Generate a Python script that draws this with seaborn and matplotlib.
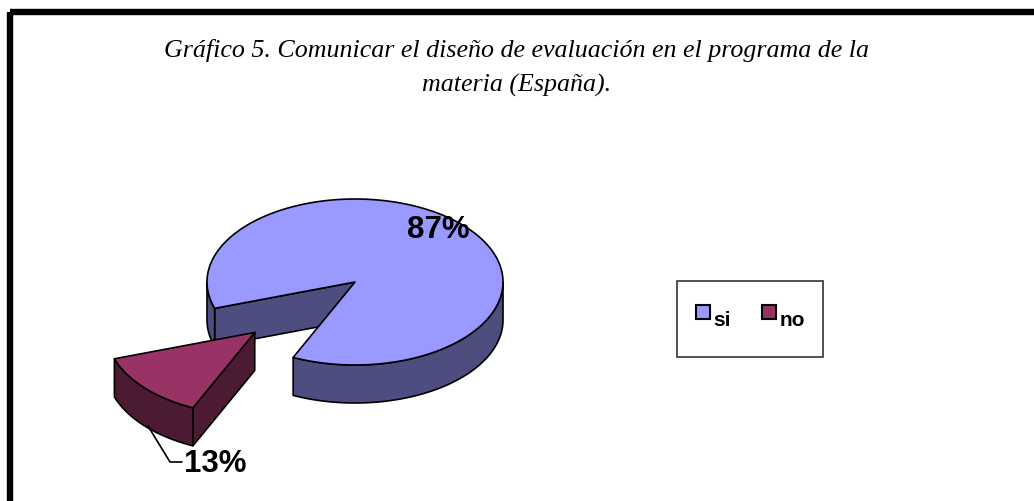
import numpy as np
import matplotlib
matplotlib.use('Agg')
import matplotlib.pyplot as plt
import seaborn as sns
from matplotlib.patches import Polygon, Rectangle
from matplotlib.lines import Line2D

# Datos del gráfico
labels = ["si", "no"]
values = [87, 13]
pct_labels = ["87%", "13%"]
title_lines = ["Gráfico 5. Comunicar el diseño de evaluación en el programa de la",
               "materia (España)."]

sns.set_style("white")
top_colors = sns.color_palette(["#9999FF", "#993366"])
side_colors = sns.color_palette(["#4D4D80", "#4D1A33"])

# Geometria del pastel 3D (pixeles)
cx, cy = 355, 283
rx, ry = 148, 83
depth = 38
start_angle = 245.3
explode = [0.0, 0.91]
edge_lw = 1.2

fig = plt.figure(figsize=(10.34, 5.02), dpi=100)
ax = fig.add_axes([0, 0, 1, 1])
ax.set_xlim(0, 1034)
ax.set_ylim(502, 0)
ax.axis('off')


def pt(ox, oy, t, dz=0.0):
    return ox + rx * np.cos(t), oy - ry * np.sin(t) + dz


def draw_slice(t0, t1, ox, oy, top, side):
    # caras de corte
    for t, visible in [(t0, np.cos(t0) > 0), (t1, np.cos(t1) < 0)]:
        if visible:
            ex, ey = pt(ox, oy, t)
            poly = [(ox, oy), (ex, ey), (ex, ey + depth), (ox, oy + depth)]
            ax.add_patch(Polygon(poly, closed=True, facecolor=side, edgecolor='black', lw=edge_lw, joinstyle='round'))
    # pared exterior (solo la mitad frontal)
    k0 = int(np.floor(t0 / (2 * np.pi))) - 1
    for k in range(k0, k0 + 4):
        a = max(t0, np.pi + 2 * np.pi * k)
        b = min(t1, 2 * np.pi + 2 * np.pi * k)
        if b - a > 1e-6:
            ts = np.linspace(a, b, 120)
            xs, ys = pt(ox, oy, ts)
            poly = list(zip(xs, ys)) + list(zip(xs[::-1], ys[::-1] + depth))
            ax.add_patch(Polygon(poly, closed=True, facecolor=side, edgecolor='black', lw=edge_lw, joinstyle='round'))
    # cara superior
    ts = np.linspace(t0, t1, 300)
    xs, ys = pt(ox, oy, ts)
    poly = [(ox, oy)] + list(zip(xs, ys))
    ax.add_patch(Polygon(poly, closed=True, facecolor=top, edgecolor='black', lw=edge_lw, joinstyle='round'))


total = sum(values)
angle = np.deg2rad(start_angle)
for i, v in enumerate(values):
    span = 2 * np.pi * v / total
    mid = angle + span / 2
    ox = cx + explode[i] * rx * np.cos(mid)
    oy = cy - explode[i] * ry * np.sin(mid)
    draw_slice(angle, angle + span, ox, oy, top_colors[i], side_colors[i])
    angle += span

# etiquetas de porcentaje
ax.text(438, 230, pct_labels[0], fontsize=22.5, fontweight='bold', family='Liberation Sans',
        color='black', ha='center', va='center')
ax.plot([148, 170, 182], [427, 463, 463], color='black', lw=1.2)
ax.text(184, 464, pct_labels[1], fontsize=22.5, fontweight='bold', family='Liberation Sans',
        color='black', ha='left', va='center')

# titulo
for y, line in zip([57, 92], title_lines):
    ax.text(517, y, line, fontsize=18.7, style='italic', family='Liberation Serif',
            color='black', ha='center', va='baseline')

# marco exterior
ax.add_patch(Rectangle((10, 13), 1200, 600, fill=False, edgecolor='black', lw=4.6))

# leyenda
handles = [Line2D([], [], marker='s', linestyle='none', markersize=9.5, markerfacecolor=c,
                  markeredgecolor='black', markeredgewidth=1.5) for c in top_colors]
leg = ax.legend(handles, labels, loc='upper left', bbox_to_anchor=(677, 282),
                bbox_transform=ax.transData, borderaxespad=0, ncol=2,
                prop={'family': 'Liberation Sans', 'weight': 'bold', 'size': 15},
                frameon=True, fancybox=False, borderpad=0.85, handlelength=0.75,
                handleheight=2.6, handletextpad=0.15, columnspacing=1.45)
leg.get_frame().set_edgecolor('black')
leg.get_frame().set_linewidth(1.2)
for t in leg.get_texts():
    t.set_color('black')

fig.savefig("out.png", dpi=100, facecolor='white')
